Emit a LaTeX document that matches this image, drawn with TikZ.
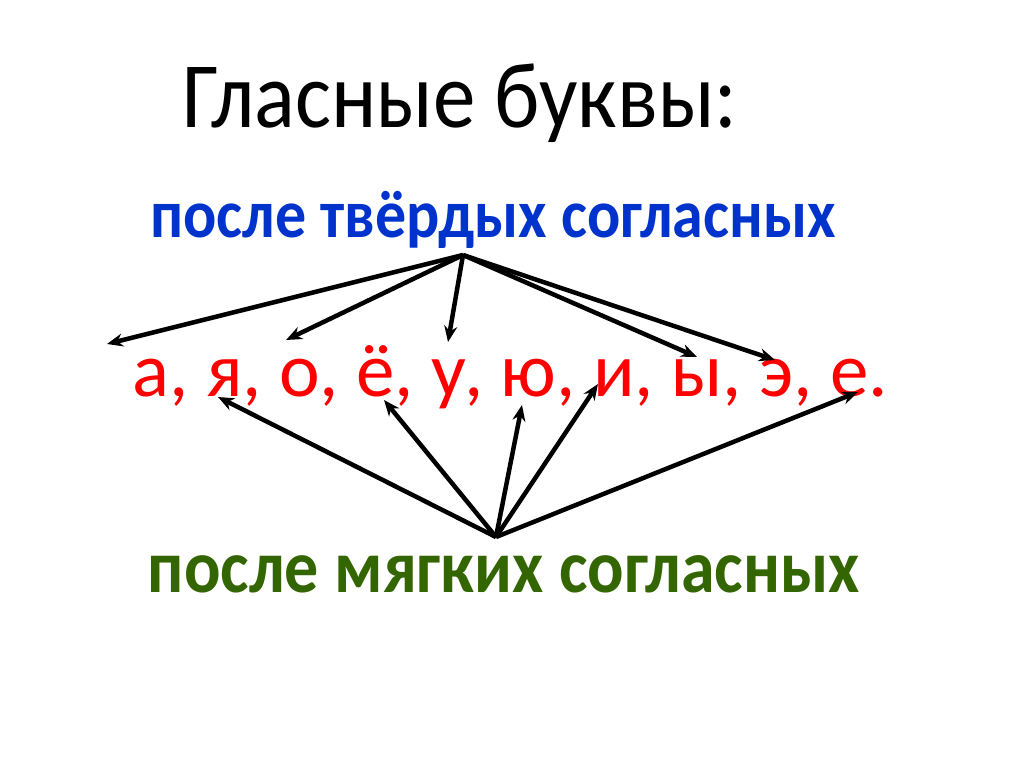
\documentclass[tikz,border=0pt]{standalone}
\usepackage{fontspec}
\setmainfont{Carlito}
\usepackage{xcolor}
\usetikzlibrary{arrows.meta}
\definecolor{hardblue}{RGB}{0,51,204}
\definecolor{softgreen}{RGB}{51,102,0}
\newcommand\tallbox[1]{\scalebox{1}[1.1]{#1}} % the slide's text is a bit taller than Carlito
\tikzset{
    x=1pt, y=-1pt,
    link/.style={-{Stealth[length=16pt,width=13pt]}, line width=4.5pt}, % arrows from the headings to the letters
    heading/.style={inner sep=0pt, anchor=base},
}
\begin{document}
\begin{tikzpicture}
    \useasboundingbox (0,0) rectangle (1024,767);
    \node[inner sep=0pt, anchor=base, font=\fontsize{85}{85}\selectfont] (title) at (460,128) {\tallbox{Гласные буквы:}};
    \node[heading, text=hardblue, font=\fontsize{62}{62}\selectfont\bfseries] (hard) at (493,237) {\tallbox{после твёрдых согласных}};
    \node[inner sep=0pt, anchor=base, text=red, font=\fontsize{77}{77}\selectfont] (vowels) at (510,396) {а, я, о, ё, у, ю, и, ы, э, е.};
    \node[heading, text=softgreen, font=\fontsize{68}{68}\selectfont\bfseries] (soft) at (504,592) {\tallbox{после мягких согласных}};

    % where the arrows start and end
    \coordinate (hs) at (463,255);
    \coordinate (ss) at (496,537);
    \coordinate (h1) at (107,344);
    \coordinate (h2) at (286,340);
    \coordinate (h3) at (448,342);
    \coordinate (h4) at (697,357);
    \coordinate (h5) at (775,360);
    \coordinate (s1) at (218,397);
    \coordinate (s2) at (384,400);
    \coordinate (s3) at (522,405);
    \coordinate (s4) at (598,384);
    \coordinate (s5) at (858,392);

    \foreach \t in {h1,h2,h3,h4,h5}
        \draw[link] (hs) -- (\t);
    \foreach \t in {s1,s2,s3,s4,s5}
        \draw[link] (ss) -- (\t);
\end{tikzpicture}
\end{document}
